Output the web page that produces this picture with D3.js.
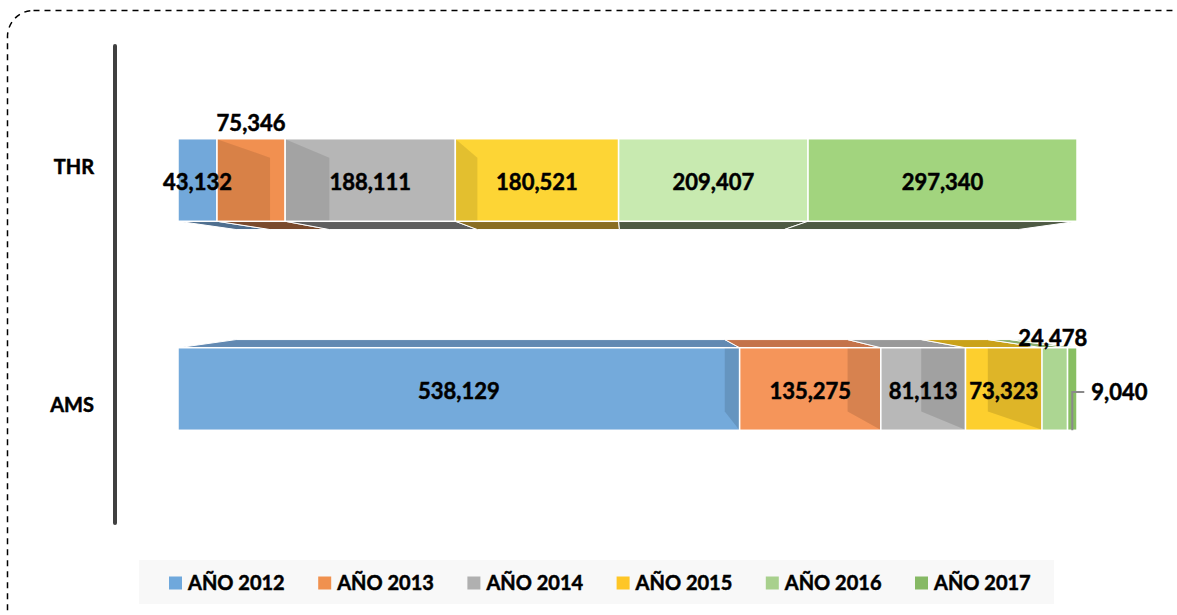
<!DOCTYPE html>
<html><head><meta charset="utf-8">
<script src="https://cdn.jsdelivr.net/npm/d3@7/dist/d3.min.js"></script>
<style>body{margin:0;background:#fff;}svg{display:block;font-family:Lato,"Open Sans",sans-serif;}
text{paint-order:stroke;stroke:#000;stroke-width:0.5px;}</style>
</head><body>
<svg id="c" width="1177" height="615"></svg>
<script>
const categories = ["THR", "AMS"];
const seriesNames = ["AÑO 2012", "AÑO 2013", "AÑO 2014", "AÑO 2015", "AÑO 2016", "AÑO 2017"];
const thrValues = [43132, 75346, 188111, 180521, 209407, 297340];
const amsValues = [538129, 135275, 81113, 73323, 24478, 9040];
const frontColorsTHR = ["#72a8da", "#f19050", "#b6b6b6", "#fdd535", "#c8eab0", "#a2d47e"];
const frontColorsAMS = ["#74aadb", "#f5955a", "#b8b8b8", "#fdcf2e", "#acd692", "#88bf62"];
const legendColors = ["#6fa8dc", "#f0914f", "#b0b0b0", "#fec626", "#a8d08d", "#86b965"];
const bottomFaceColors = ["#4f6f8f", "#7a4a2c", "#5e5e5e", "#8a6e22", "#4e5a44", "#4e5a44"];
const topFaceColors = ["#6289b2", "#c4734a", "#999999", "#caa21a", "#8ab06c", "#6e9a4e"];

const values = { THR: thrValues, AMS: amsValues };
const svg = d3.select("#c");

// border
svg.append("rect").attr("x", 7.5).attr("y", 10.5).attr("width", 1190).attr("height", 625)
  .attr("rx", 26).attr("fill", "none").attr("stroke", "#000").attr("stroke-width", 1.5)
  .attr("stroke-dasharray", "6,5");

const x = d3.scaleLinear().domain([0, 1]).range([178, 1077]);
const y = d3.scaleBand().domain(categories).range([46, 523]).paddingInner(0.605).paddingOuter(0.4436);

// perspective vanishing point
const vp = { x: 625, y: 285 }, k = 0.87;
const bx = v => vp.x + (v - vp.x) * k;
const by = v => vp.y + (v - vp.y) * k;

categories.forEach(cat => {
  const vals = values[cat];
  const total = d3.sum(vals);
  const cum = d3.cumsum(vals);
  const segs = vals.map((v, i) => ({ i, v, x0: x((cum[i] - v) / total), x1: x(cum[i] / total) }));
  const y0 = y(cat), y1 = y(cat) + y.bandwidth();
  const below = y1 < vp.y; // bar above eye => bottom face visible
  const fronts = cat === "THR" ? frontColorsTHR : frontColorsAMS;
  const g = svg.append("g");

  // depth faces
  segs.forEach(s => {
    let pts;
    if (below) {
      pts = [[s.x0, y1], [s.x1, y1], [bx(s.x1), by(y1)], [bx(s.x0), by(y1)]];
      g.append("polygon").attr("points", pts.join(" ")).attr("fill", bottomFaceColors[s.i])
        .attr("stroke", "#fff").attr("stroke-width", 1);
    } else {
      pts = [[s.x0, y0], [s.x1, y0], [bx(s.x1), by(y0)], [bx(s.x0), by(y0)]];
      g.append("polygon").attr("points", pts.join(" ")).attr("fill", topFaceColors[s.i])
        .attr("stroke", "#fff").attr("stroke-width", 1);
    }
  });

  // front faces
  segs.forEach(s => {
    g.append("rect").attr("x", s.x0).attr("y", y0).attr("width", s.x1 - s.x0).attr("height", y1 - y0)
      .attr("fill", fronts[s.i]).attr("stroke", "#fff").attr("stroke-width", 1.5);
  });

  // internal walls seen through
  segs.forEach(s => {
    if (below) {
      if (s.i > 0 && s.x0 < vp.x && bx(s.x0) - s.x0 > 2 && bx(s.x0) < s.x1) {
        const b = bx(s.x0);
        g.append("polygon").attr("points", [[s.x0 + 0.75, y0 + 0.75], [b, by(y0)], [b, y1 - 0.75], [s.x0 + 0.75, y1 - 0.75]].join(" "))
          .attr("fill", "#000").attr("opacity", 0.1);
      }
    } else {
      if (s.i < segs.length - 1 && s.x1 > vp.x && bx(s.x1) > s.x0) {
        const b = bx(s.x1);
        g.append("polygon").attr("points", [[s.x1 - 0.75, y0 + 0.75], [b, y0 + 0.75], [b, by(y1)], [s.x1 - 0.75, y1 - 0.75]].join(" "))
          .attr("fill", "#000").attr("opacity", 0.12);
      }
    }
  });

  // labels
  const cy = (y0 + y1) / 2;
  segs.forEach(s => {
    const lbl = d3.format(",")(s.v);
    let tx = (s.x0 + s.x1) / 2, ty = cy + 2, anchor = "middle";
    if (cat === "THR" && s.i === 1) { ty = y0 - 16; }
    if (cat === "AMS" && s.i === 4) { ty = by(y0) - 1; tx = (s.x0 + s.x1) / 2 - 2; }
    if (cat === "AMS" && s.i === 5) {
      const lx = (s.x0 + s.x1) / 2;
      g.append("path").attr("d", `M${lx},${y1}V${cy + 3}H${lx + 12}`)
        .attr("fill", "none").attr("stroke", "#8a8a8a").attr("stroke-width", 2);
      tx = lx + 19; ty = cy + 3; anchor = "start";
    }
    g.append("text").attr("x", tx).attr("y", ty).attr("dy", "0.36em").attr("text-anchor", anchor)
      .attr("font-size", 22).attr("font-weight", 700).attr("fill", "#000").text(lbl);
  });
});

// axis
const axis = d3.axisLeft(y).tickSize(0).tickPadding(21);
const ag = svg.append("g").attr("transform", "translate(115,0)").call(axis);
ag.select(".domain").attr("stroke", "#404040").attr("stroke-width", 4).attr("stroke-linecap", "round")
  .attr("d", "M0,46V523");
ag.selectAll(".tick text").attr("font-size", 20).attr("font-weight", 700).attr("fill", "#000")
  .attr("font-family", "Lato,'Open Sans',sans-serif")
  .attr("transform", d => d === "THR" ? "translate(0,-12)" : "translate(0,17)");

// legend
svg.append("rect").attr("x", 139).attr("y", 560).attr("width", 915).attr("height", 44).attr("fill", "#f8f8f8");
const lx = d3.scalePoint().domain(seriesNames).range([169, 915]);
const lg = svg.append("g").selectAll("g").data(seriesNames).join("g")
  .attr("transform", d => `translate(${lx(d)},583)`);
lg.append("rect").attr("x", 0).attr("y", -6.5).attr("width", 13).attr("height", 13)
  .attr("fill", (d, i) => legendColors[i]).style("stroke", "none");
lg.append("text").attr("x", 19).attr("dy", "0.36em").attr("font-size", 20).attr("font-weight", 700)
  .attr("fill", "#000").text(d => d);
</script>
</body></html>
